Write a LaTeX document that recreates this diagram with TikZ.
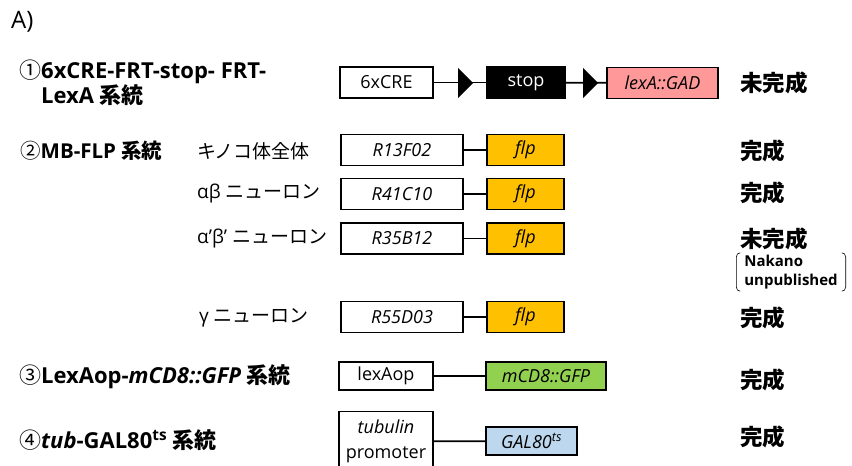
\documentclass[tikz,border=0pt]{standalone}
\usepackage{fontspec}
\setmainfont{Open Sans}
\newfontfamily\jp{Noto Sans CJK JP}
\usetikzlibrary{calc}

\definecolor{gadpink}{HTML}{FF9999}
\definecolor{flporange}{HTML}{FFC000}
\definecolor{gfpgreen}{HTML}{92D050}
\definecolor{galblue}{HTML}{BDD7EE}

\tikzset{
  gene/.style={draw=black, line width=1.2pt, inner sep=0pt, minimum height=31pt,
    font=\fontsize{18}{21}\selectfont},
  link/.style={line width=1.8pt},
  lbl/.style={anchor=west, inner sep=0pt, font=\fontsize{19}{22}\selectfont},
  head/.style={anchor=west, inner sep=0pt, align=left,
    font=\fontsize{22}{23.5}\selectfont\bfseries},
  state/.style={anchor=west, inner sep=0pt, font=\jp\bfseries\fontsize{22.5}{24}\selectfont},
}

% right-pointing flag marking an FRT site
\newcommand{\frtflag}[1]{\fill[black] ($(#1)+(0,-15)$) -- ($(#1)+(15,0)$) -- ($(#1)+(0,15)$) -- cycle;}

\begin{document}
\begin{tikzpicture}[x=1pt,y=-1pt]
\clip (0,0) rectangle (852,466);
\fill[white] (0,0) rectangle (852,466);

\node[anchor=west, inner sep=0pt, font=\fontsize{24}{27}\selectfont] (title) at (11,22) {A)};

% ---- 1: 6xCRE-FRT-stop-FRT-LexA
\node[head] (h1) at (19,83) {{\jp\mdseries ①}6xCRE-FRT-stop- FRT-\\\hphantom{\jp ①}LexA {\jp 系統}};
\node[gene, minimum width=93pt] (cre) at (386.5,82.5) {6xCRE};
\node[gene, minimum width=78pt, fill=black, text=white, minimum height=32pt] (stop) at (526,82.5) {stop};
\node[gene, minimum width=111pt, fill=gadpink] (gad) at (662.5,83) {\itshape lexA::GAD};
\draw[link] (cre) -- (stop);
\draw[link] (stop) -- (gad);
\coordinate (frt1) at (458,83);
\coordinate (frt2) at (583,83);
\frtflag{frt1}
\frtflag{frt2}
\node[state] (s1) at (740,83) {未完成};

% ---- 2: MB-FLP
\node[head, font=\fontsize{20.5}{23.5}\selectfont\bfseries] (h2) at (20,151) {{\jp\mdseries ②}MB-FLP {\jp 系統}};
\node[lbl] (l1) at (197,151) {\jp キノコ体全体};
\node[lbl] (l2) at (197,194) {αβ {\jp ニューロン}};
\node[lbl] (l3) at (197,239) {α’β’ {\jp ニューロン}};
\node[lbl] (l4) at (199,318) {γ {\jp ニューロン}};

\node[gene, minimum width=122pt] (p1) at (402,150) {\itshape R13F02};
\node[gene, minimum width=122pt] (p2) at (402,194) {\itshape R41C10};
\node[gene, minimum width=122pt] (p3) at (402,238.5) {\itshape R35B12};
\node[gene, minimum width=122pt] (p4) at (402,317) {\itshape R55D03};
\node[gene, minimum width=77pt, fill=flporange] (f1) at (525.5,150) {\itshape flp};
\node[gene, minimum width=77pt, fill=flporange] (f2) at (525.5,194) {\itshape flp};
\node[gene, minimum width=77pt, fill=flporange] (f3) at (525.5,238.5) {\itshape flp};
\node[gene, minimum width=77pt, fill=flporange] (f4) at (525.5,317) {\itshape flp};
\draw[link] (p1) -- (f1);
\draw[link] (p2) -- (f2);
\draw[link] (p3) -- (f3);
\draw[link] (p4) -- (f4);

\node[state] (s2) at (740,151) {完成};
\node[state] (s3) at (740,193) {完成};
\node[state] (s4) at (740,239) {未完成};
\node[state] (s5) at (740,318) {完成};

\node[inner sep=0pt, minimum width=109pt, minimum height=38pt, align=left,
  font=\fontsize{15}{19}\selectfont\bfseries] (nak) at (791,272) {Nakano\\unpublished};
\draw[line width=0.6pt, rounded corners=4pt]
  ($(nak.north west)+(4,0)$) -- (nak.north west) -- (nak.south west) -- ($(nak.south west)+(4,0)$);
\draw[line width=0.6pt, rounded corners=4pt]
  ($(nak.north east)+(-4,0)$) -- (nak.north east) -- (nak.south east) -- ($(nak.south east)+(-4,0)$);

% ---- 3: LexAop-mCD8::GFP
\node[head] (h3) at (19,377) {{\jp\mdseries ③}LexAop-\textit{mCD8::GFP} {\jp 系統}};
\node[gene, minimum width=94pt, minimum height=28pt] (lexaop) at (386,376) {lexAop};
\node[gene, minimum width=120pt, minimum height=28pt, fill=gfpgreen] (gfp) at (546,376) {\itshape mCD8::GFP};
\draw[link] (lexaop) -- (gfp);
\node[state] (s6) at (740,380) {完成};

% ---- 4: tub-GAL80ts
\node[head] (h4) at (19,440) {{\jp\mdseries ④}\textit{tub}-GAL80\textsuperscript{ts} {\jp 系統}};
\node[gene, minimum width=94pt, minimum height=60pt, align=center,
  font=\fontsize{18}{25}\selectfont] (tub) at (386,441.5) {\textit{tubulin}\\promoter};
\node[gene, minimum width=91pt, minimum height=28pt, fill=galblue] (gal) at (531.5,441) {\itshape GAL80\textsuperscript{ts}};
\draw[link] (tub) -- (gal);
\node[state] (s7) at (740,437) {完成};
\end{tikzpicture}
\end{document}
